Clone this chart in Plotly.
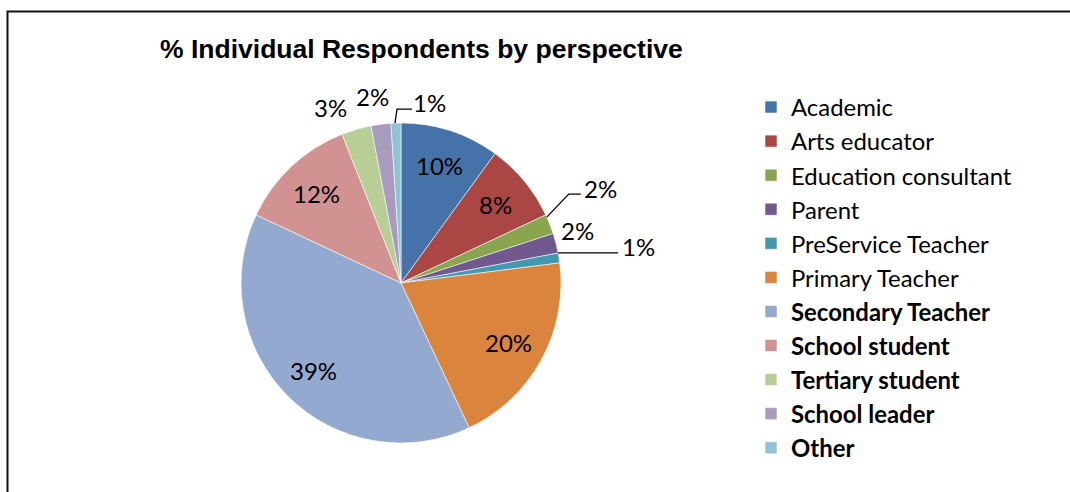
import math
import plotly.graph_objects as go

W, H = 1070, 492

# Respondent share by perspective (percent)
categories = [
    "Academic", "Arts educator", "Education consultant", "Parent",
    "PreService Teacher", "Primary Teacher", "Secondary Teacher",
    "School student", "Tertiary student", "School leader", "Other",
]
shares = [10, 8, 2, 2, 1, 20, 39, 12, 3, 2, 1]
bold_in_legend = [False] * 6 + [True] * 5
colors = [
    "#4572A8", "#AA4643", "#89A54E", "#71588F", "#4198AF", "#DB843D",
    "#94A9D0", "#D19392", "#B9CD96", "#A99BBD", "#92C3D4",
]

legend_labels = [f"<b>{c}</b>" if b else c for c, b in zip(categories, bold_in_legend)]

# pie geometry in pixels
cx, cy, r = 401, 283, 160
inside_radius = 0.77 * r

# placement of the small-slice labels: text offset from the slice's rim midpoint,
# and an optional leader polyline (offsets from the same rim point)
outside_style = {
    "Education consultant": dict(text=(51, -36), line=[(-3, -7), (19, -30), (31, -30)]),
    "Parent": dict(text=(22, -13), line=None),
    "PreService Teacher": dict(text=(79, -11), line=[(-1, -5), (59, -5)]),
    "Tertiary student": dict(text=(-26, -22), line=None),
    "School leader": dict(text=(-8, -28), line=None),
    "Other": dict(text=(34, -21), line=[(-1, 0), (1, -14), (16, -14)]),
}

label_font = dict(family="Lato", size=24, color="#000000")


def px(x, y):
    return x / W, 1 - y / H


fig = go.Figure(
    go.Pie(
        labels=legend_labels,
        values=shares,
        sort=False,
        direction="clockwise",
        rotation=0,
        marker=dict(colors=colors, line=dict(color="rgba(255,255,255,0.7)", width=0.8)),
        textinfo="none",
        domain=dict(x=[(cx - r) / W, (cx + r) / W], y=[(H - cy - r) / H, (H - cy + r) / H]),
        hoverinfo="label+percent",
    )
)

annotations = []
shapes = []
total = sum(shares)
cum = 0.0
for cat, v in zip(categories, shares):
    mid = (cum + v / 2) / total * 2 * math.pi
    cum += v
    sx, sy = math.sin(mid), -math.cos(mid)
    text = f"{round(100 * v / total)}%"
    if cat in outside_style:
        st = outside_style[cat]
        ax, ay = cx + r * sx, cy + r * sy
        tx, ty = ax + st["text"][0], ay + st["text"][1]
        if st["line"]:
            pts = [(ax + dx, ay + dy) for dx, dy in st["line"]]
            path = "M " + " L ".join(f"{px(x, y)[0]:.5f},{px(x, y)[1]:.5f}" for x, y in pts)
            shapes.append(dict(type="path", xref="paper", yref="paper", path=path,
                               line=dict(color="#000000", width=1.3)))
    else:
        tx, ty = cx + inside_radius * sx, cy + inside_radius * sy
    x, y = px(tx, ty)
    annotations.append(dict(text=text, xref="paper", yref="paper", x=x, y=y,
                            xanchor="center", yanchor="middle", showarrow=False,
                            font=label_font))

annotations.append(
    dict(
        text="<b>% Individual Respondents by perspective</b>",
        xref="paper", yref="paper",
        x=158 / W, y=1 - 49 / H,
        xanchor="left", yanchor="middle",
        showarrow=False,
        font=dict(family="Liberation Sans", size=26.5, color="#000000"),
    )
)

# chart frame
shapes.append(
    dict(
        type="rect", xref="paper", yref="paper",
        x0=7.5 / W, x1=1.05, y0=-0.1, y1=1 - 11.5 / H,
        line=dict(color="#111111", width=2),
        fillcolor="rgba(0,0,0,0)",
        layer="above",
    )
)

fig.update_layout(
    width=W,
    height=H,
    margin=dict(l=0, r=0, t=0, b=0),
    paper_bgcolor="white",
    plot_bgcolor="white",
    showlegend=True,
    legend=dict(
        x=751 / W,
        y=1 - 85 / H,
        xanchor="left",
        yanchor="top",
        font=dict(family="Lato", size=23.9, color="#000000"),
        itemclick=False,
        tracegroupgap=0,
    ),
    annotations=annotations,
    shapes=shapes,
)

fig.write_html("out.html")
